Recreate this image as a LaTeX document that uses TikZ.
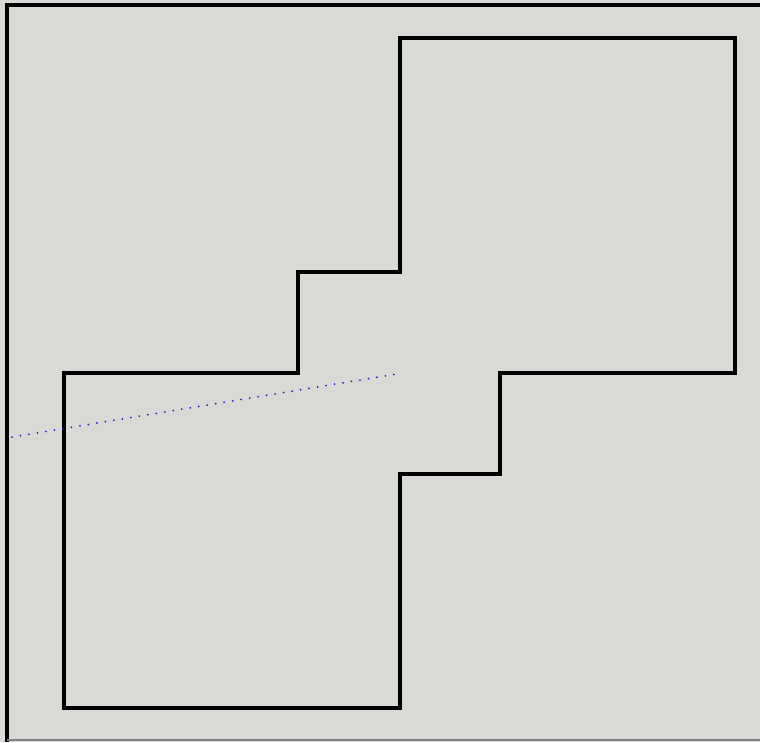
\documentclass[tikz,border=0pt]{standalone}
\usetikzlibrary{positioning}
\definecolor{canvas}{RGB}{218,217,213}
\definecolor{guide}{RGB}{30,30,210}
\tikzset{outline/.style={draw=black, line width=3.6pt, line join=miter},
         guideline/.style={draw=guide, line width=2pt, line cap=round, dash pattern=on 0pt off 8.6pt}}
\begin{document}
\begin{tikzpicture}[x=1pt, y=-1pt]
   \useasboundingbox (0,0) rectangle (760,742);
   \fill[canvas] (0,0) rectangle (760,742);
   % frame
   \draw[black, line width=4pt] (7,742) -- (7,5) -- (760,5);
   \draw[gray, line width=1.2pt] (7,740) -- (760,740);
   \begin{scope}
    \coordinate (p1) at (64,373);
    \coordinate (p2) at (298,373);
    \coordinate (p3) at (298,272);
    \coordinate (p4) at (400,272);
    \coordinate (p5) at (400,38);
    \coordinate (p6) at (735,38);
    \coordinate (p7) at (735,373);
    \coordinate (p8) at (500,373);
    \coordinate (p9) at (500,474);
    \coordinate (p10) at (400,474);
    \coordinate (p11) at (400,708);
    \coordinate (p12) at (64,708);
    \coordinate (g1) at (12,437);
    \coordinate (g2) at (397,374);
   \end{scope}
   \draw[outline] (p1) -- (p2) -- (p3) -- (p4) -- (p5) -- (p6) -- (p7) -- (p8)
          -- (p9) -- (p10) -- (p11) -- (p12) -- cycle;
   \draw[guideline] (g1) -- (g2);
\end{tikzpicture}
\end{document}
